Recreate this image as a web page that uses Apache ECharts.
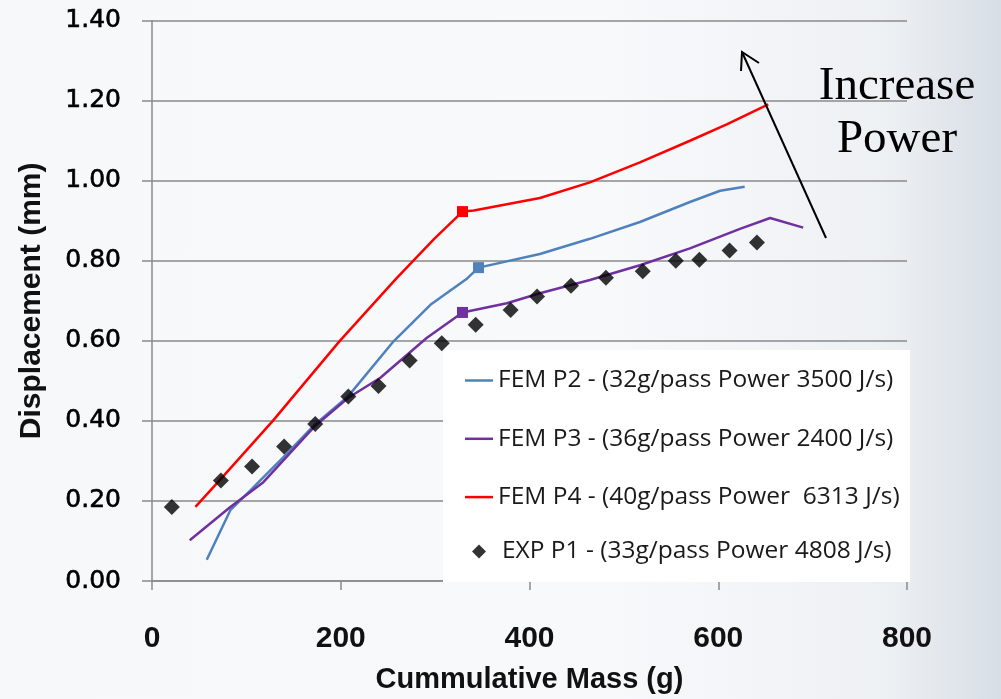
<!DOCTYPE html>
<html>
<head>
<meta charset="utf-8">
<script src="https://cdn.jsdelivr.net/npm/echarts@6/dist/echarts.min.js"></script>
<style>
  html, body { margin: 0; padding: 0; }
  body {
    width: 1001px; height: 699px; overflow: hidden;
    background: linear-gradient(to right, #f6f8fa 0%, #f8f9fb 60%, #eef1f4 88%, #d8dee6 100%);
  }
  #chart { width: 1001px; height: 699px; }
</style>
</head>
<body>
<div id="chart"></div>
<script>
// series names
const nameP2 = 'FEM P2 - (32g/pass Power 3500 J/s)';
const nameP3 = 'FEM P3 - (36g/pass Power 2400 J/s)';
const nameP4 = 'FEM P4 - (40g/pass Power  6313 J/s)';
const nameExp = 'EXP P1 - (33g/pass Power 4808 J/s)';

// FEM P2 (blue)
const massP2 = [58, 83, 104, 139, 173, 208, 256, 295, 334, 346, 411, 464, 517, 570, 602, 628];
const dispP2 = [0.053, 0.177, 0.226, 0.309, 0.392, 0.462, 0.599, 0.69, 0.756, 0.783, 0.817, 0.855, 0.897, 0.947, 0.975, 0.985];
const kneeP2 = 9;

// FEM P3 (purple)
const massP3 = [40, 83, 118, 173, 208, 242, 291, 329, 376, 411, 464, 517, 570, 623, 655, 690];
const dispP3 = [0.102, 0.185, 0.247, 0.388, 0.458, 0.508, 0.607, 0.671, 0.694, 0.719, 0.752, 0.789, 0.831, 0.88, 0.907, 0.883];
const kneeP3 = 7;

// FEM P4 (red)
const massP4 = [46, 73, 128, 199, 259, 299, 329, 341, 411, 464, 517, 570, 609, 653];
const dispP4 = [0.185, 0.255, 0.40, 0.60, 0.756, 0.855, 0.923, 0.926, 0.957, 0.996, 1.046, 1.10, 1.141, 1.191];
const kneeP4 = 6;

// EXP P1 (black diamonds)
const massExp = [21, 73, 106, 140, 173, 208, 240, 273, 307, 343, 380, 408, 444, 481, 520, 555, 580, 612, 641];
const dispExp = [0.185, 0.251, 0.286, 0.336, 0.392, 0.461, 0.487, 0.551, 0.594, 0.640, 0.677, 0.711, 0.738, 0.758, 0.774, 0.800, 0.803, 0.826, 0.846];

const xTicks = { min: 0, max: 800, interval: 200 };
const yTicks = { min: 0, max: 1.4, interval: 0.2 };

const pairs = (xs, ys) => xs.map((x, i) => [x, ys[i]]);

function femLine(name, xs, ys, knee, color) {
    return {
        name: name,
        type: 'line',
        data: pairs(xs, ys),
        showSymbol: true,
        showAllSymbol: true,
        symbol: (v, p) => (p.dataIndex === knee ? 'rect' : 'none'),
        symbolSize: 11,
        itemStyle: { color: color },
        lineStyle: { color: color, width: 2.5 },
        z: 3
    };
}

const chart = echarts.init(document.getElementById('chart'));

const axisGray = '#8a8a8a';
const legendText = { fontFamily: 'Open Sans', fontSize: 24.5, color: '#1a1a1a', lineHeight: 24 };

chart.setOption({
    backgroundColor: 'transparent',
    animation: false,
    grid: { left: 152, right: 94, top: 20.7, bottom: 114.5 },
    xAxis: {
        type: 'value',
        min: xTicks.min, max: xTicks.max, interval: xTicks.interval,
        name: 'Cummulative Mass (g)',
        nameLocation: 'middle',
        nameGap: 84,
        nameTextStyle: { fontFamily: 'Liberation Sans', fontWeight: 'bold', fontSize: 29, color: '#111' },
        axisLine: { show: true, lineStyle: { color: axisGray, width: 1.5 } },
        axisTick: { show: true, inside: false, length: 9, lineStyle: { color: axisGray, width: 1.5 } },
        axisLabel: {
            margin: 43, fontFamily: 'Liberation Sans', fontWeight: 'bold',
            fontSize: 30, color: '#111'
        },
        splitLine: { show: false }
    },
    yAxis: {
        type: 'value',
        min: yTicks.min, max: yTicks.max, interval: yTicks.interval,
        name: 'Displacement (mm)',
        nameLocation: 'middle',
        nameGap: 105,
        nameTextStyle: { fontFamily: 'Liberation Sans', fontWeight: 'bold', fontSize: 30, color: '#111' },
        axisLine: { show: true, lineStyle: { color: axisGray, width: 1.5 } },
        axisTick: { show: true, inside: false, length: 10, lineStyle: { color: axisGray, width: 1.5 } },
        axisLabel: {
            margin: 31, fontFamily: 'DejaVu Sans', fontSize: 25, color: '#000',
            textBorderColor: '#000', textBorderWidth: 0.6,
            formatter: v => v.toFixed(2)
        },
        splitLine: { show: true, lineStyle: { color: axisGray, width: 1.5 } }
    },
    legend: [
        {
            data: [nameP2, nameP3, nameP4],
            orient: 'vertical',
            left: 465, top: 368,
            padding: 0,
            icon: 'rect',
            itemWidth: 28, itemHeight: 2.5,
            itemGap: 33.3,
            selectedMode: false,
            z: 10,
            textStyle: legendText
        },
        {
            data: [nameExp],
            orient: 'vertical',
            left: 472, top: 539,
            padding: 0,
            icon: 'diamond',
            itemWidth: 14, itemHeight: 14,
            selectedMode: false,
            z: 10,
            textStyle: Object.assign({}, legendText, { padding: [0, 0, 0, 11] })
        }
    ],
    graphic: [
        { type: 'rect', left: 443, top: 350, z: 5, shape: { width: 467, height: 232 }, style: { fill: '#ffffff' } },
        { type: 'line', z: 6, shape: { x1: 826, y1: 238, x2: 742, y2: 52 }, style: { stroke: '#000', lineWidth: 2 } },
        { type: 'polyline', z: 6, shape: { points: [[741, 71], [742, 52], [759, 63]] }, style: { stroke: '#000', lineWidth: 2, fill: null } },
        {
            type: 'text', z: 6, x: 897, y: 63,
            style: { text: 'Increase', fontFamily: 'Liberation Serif', fontSize: 47, fill: '#000', align: 'center', verticalAlign: 'top' }
        },
        {
            type: 'text', z: 6, x: 897, y: 116,
            style: { text: 'Power', fontFamily: 'Liberation Serif', fontSize: 47, fill: '#000', align: 'center', verticalAlign: 'top' }
        }
    ],
    series: [
        femLine(nameP2, massP2, dispP2, kneeP2, '#4f81bd'),
        femLine(nameP3, massP3, dispP3, kneeP3, '#7030a0'),
        femLine(nameP4, massP4, dispP4, kneeP4, '#ff0000'),
        {
            name: nameExp,
            type: 'scatter',
            data: pairs(massExp, dispExp),
            symbol: 'diamond',
            symbolSize: 16,
            itemStyle: { color: '#000' },
            z: 4
        }
    ]
});
</script>
</body>
</html>
